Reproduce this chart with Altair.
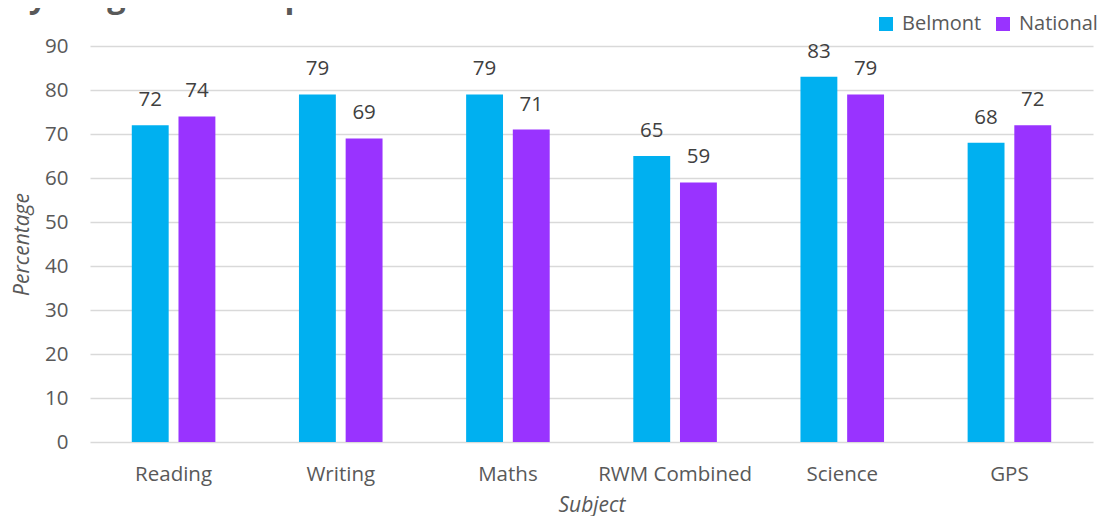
import altair as alt
import pandas as pd

subjects = ["Reading", "Writing", "Maths", "RWM Combined", "Science", "GPS"]
belmont = [72, 79, 79, 65, 83, 68]
national = [74, 69, 71, 59, 79, 72]
series = ["Belmont", "National"]
colors = ["#00B0F0", "#9933FF"]
title_text = "Key Stage Two - Expected Standard Outcomes - 2022"

rows = []
for s, b, n in zip(subjects, belmont, national):
    rows.append({"Subject": s, "Series": "Belmont", "Value": b})
    rows.append({"Subject": s, "Series": "National", "Value": n})
df = pd.DataFrame(rows)

FONT = "Open Sans"
GREY = "#595959"
FS = 20.5

x = alt.X("Subject:N", sort=subjects,
          scale=alt.Scale(paddingInner=0.5, paddingOuter=0.25),
          axis=alt.Axis(title="Subject", titleFontStyle="italic", titleFontWeight="normal",
                        titleFontSize=21, titleColor=GREY, titlePadding=10,
                        labelFontSize=FS, labelColor=GREY, labelAngle=0, labelPadding=22,
                        domain=False, ticks=False, labelFont=FONT, titleFont=FONT))
xo = alt.XOffset("Series:N", sort=series, scale=alt.Scale(paddingInner=0.21, paddingOuter=0))
y = alt.Y("Value:Q", scale=alt.Scale(domain=[0, 90], nice=False),
          axis=alt.Axis(title="Percentage", values=list(range(0, 100, 10)),
                        titleFontStyle="italic", titleFontWeight="normal", titleFontSize=21,
                        titleColor=GREY, titlePadding=12, labelFontSize=FS, labelColor=GREY,
                        labelPadding=22, domain=False, ticks=False, gridColor="#D9D9D9",
                        gridWidth=1.5, labelFont=FONT, titleFont=FONT))
color = alt.Color("Series:N", sort=series, scale=alt.Scale(domain=series, range=colors),
                  legend=alt.Legend(title=None, orient="none", direction="horizontal",
                                    legendX=786, legendY=-32, symbolType="square",
                                    symbolSize=196, symbolStrokeWidth=0, symbolOpacity=1,
                                    labelFontSize=20, labelColor=GREY, labelFont=FONT,
                                    columnPadding=11, labelOffset=6))

base = alt.Chart(df)
bars = base.mark_bar(opacity=1).encode(x=x, xOffset=xo, y=y, color=color)
labels = base.mark_text(dy=-19, baseline="alphabetic", fontSize=FS, font=FONT, color="#404040").encode(
    x=x, xOffset=xo, y=y, text=alt.Text("Value:Q"))

title_df = pd.DataFrame({"t": [title_text]})
title = alt.Chart(title_df).mark_text(align="left", baseline="alphabetic", fontSize=32.5,
                                      fontWeight="bold", font=FONT, color=GREY).encode(
    x=alt.value(-102), y=alt.value(-39), text="t:N")

chart = alt.layer(bars, labels, title).properties(
    width=1003, height=396,
    autosize=alt.AutoSizeParams(type="none"),
    padding={"left": 82, "top": 38, "right": 7, "bottom": 74},
).configure(font=FONT).configure_view(strokeWidth=0, stroke="transparent")

chart.save("out.html", embed_options={"renderer": "svg", "actions": False})
